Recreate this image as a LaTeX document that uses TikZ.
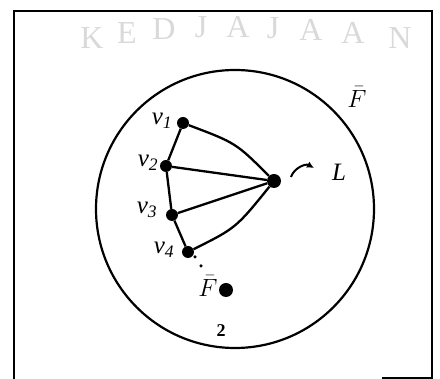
\documentclass[tikz,border=0pt]{standalone}
\usepackage{fontspec}
\setmainfont{Liberation Serif}
\usetikzlibrary{arrows.meta}
\begin{document}
\begin{tikzpicture}[x=1pt,y=-1pt,
  vdot/.style={circle,fill=black,inner sep=0pt,minimum size=12pt},
  bigdot/.style={circle,fill=black,inner sep=0pt,minimum size=14pt},
  lbl/.style={font=\fontsize{25}{28}\selectfont\itshape,inner sep=0pt},
  wm/.style={font=\fontsize{32}{34}\selectfont,text=black!15,inner sep=0pt},
  edge/.style={line width=2.3pt},
  frame/.style={line width=2pt}]
\useasboundingbox (0,0) rectangle (440,379);
% watermark
\node[wm] at (92,38) {K};
\node[wm] at (127,33) {E};
\node[wm] at (164,29) {D};
\node[wm] at (201,27) {J};
\node[wm] at (238,27) {A};
\node[wm] at (273,28) {J};
\node[wm] at (311,30) {A};
\node[wm] at (353,33) {A};
\node[wm] at (400,38) {N};
% frame
\coordinate (f1) at (14,380);
\coordinate (f2) at (14,11);
\coordinate (f3) at (432,11);
\coordinate (f4) at (432,380);
\coordinate (f5) at (382,378);
\coordinate (f6) at (432,378);
\draw[frame] (f1) -- (f2) -- (f3) -- (f4);
\draw[frame] (f5) -- (f6);
% big circle
\node[circle,draw,line width=2.2pt,minimum size=278pt,inner sep=0pt] (O) at (235,209) {};
% vertices
\node[vdot] (v1) at (183,123) {};
\node[vdot] (v2) at (166,166) {};
\node[vdot] (v3) at (172,215) {};
\node[vdot] (v4) at (188,252) {};
\node[bigdot] (c) at (274,181) {};
\node[bigdot] (F) at (226,290) {};
% edges
\draw[edge] (v1) -- (v2) -- (v3) -- (v4);
\draw[edge] (v2) -- (c);
\draw[edge] (v3) -- (c);
\draw[edge] (v1) .. controls (236,143) .. (c);
\draw[edge] (v4) .. controls (236,228) .. (c);
% dots toward F
\node[circle,fill=black,inner sep=0pt,minimum size=3.5pt] (d1) at (195,257) {};
\node[circle,fill=black,inner sep=0pt,minimum size=3.5pt] (d2) at (201,266) {};
% arrow to L
\coordinate (a1) at (291,177);
\coordinate (a2) at (314,168);
\draw[line width=2pt,-{Latex[length=7pt,width=7pt]}] (a1) to[bend left=50] (a2);
% labels
\node[lbl] (Lv1) at (162,121) {v\textsubscript{1}};
\node[lbl] (Lv2) at (148,163) {v\textsubscript{2}};
\node[lbl] (Lv3) at (147,210) {v\textsubscript{3}};
\node[lbl] (Lv4) at (164,250) {v\textsubscript{4}};
\node[lbl] (LL) at (339,172) {L};
\node[lbl] (LF) at (357,97) {$\bar{F}$};
\node[lbl] (LF2) at (208,286) {$\bar{F}$};
\node[lbl,font=\fontsize{18}{20}\selectfont\bfseries] (L2) at (221,331) {2};
\end{tikzpicture}
\end{document}
